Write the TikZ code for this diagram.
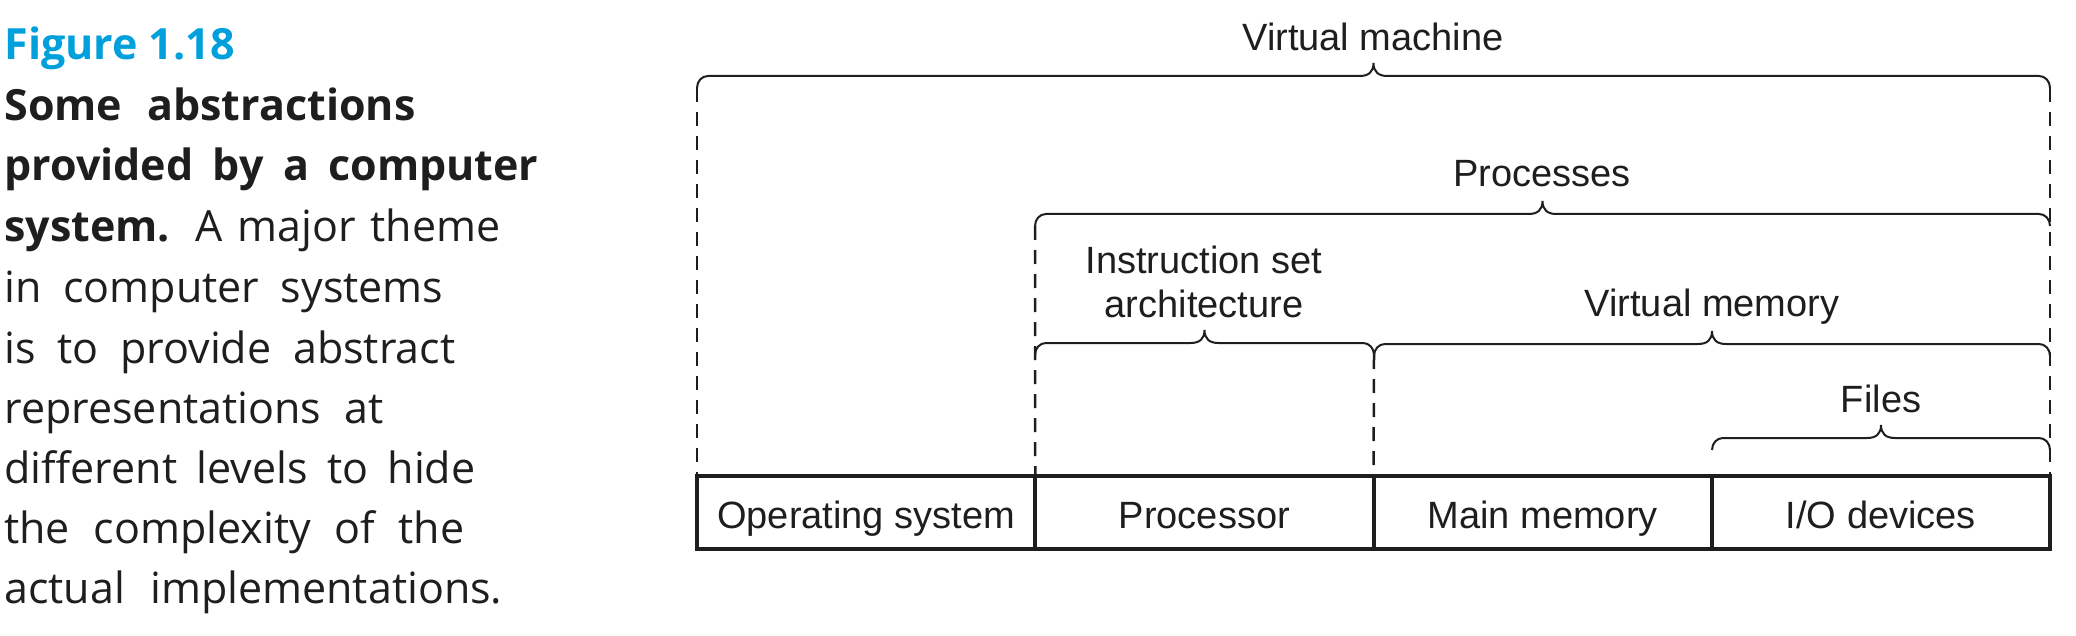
\documentclass[tikz,border=0pt]{standalone}
\usepackage{fontspec}
\setmainfont{Liberation Sans}
\newfontfamily\capfont{Open Sans}
\definecolor{figblue}{RGB}{0,160,220}
\definecolor{ink}{RGB}{30,30,30}
\newcommand\drawbrace[3]{% left x, right x, line y (pixel units, y down)
  \draw[bracestyle] (#1,#3+12) .. controls (#1,#3+5) and (#1+5,#3) .. (#1+11,#3)
    -- ({(#1+#2)/2-14},#3) .. controls ({(#1+#2)/2-5},#3) and ({(#1+#2)/2},#3-4) .. ({(#1+#2)/2},#3-13)
    .. controls ({(#1+#2)/2},#3-4) and ({(#1+#2)/2+5},#3) .. ({(#1+#2)/2+14},#3)
    -- (#2-11,#3) .. controls (#2-5,#3) and (#2,#3+5) .. (#2,#3+12);}
\newcommand\capbox[2]{\makebox[#1pt][s]{#2}}
\begin{document}
\begin{tikzpicture}[x=0.5pt,y=-0.5pt,
  cell/.style={draw=ink,line width=2pt,minimum width=169.125pt,minimum height=36.5pt,
    inner sep=0pt,outer sep=0pt,text height=17.5pt,text depth=2pt,font=\fontsize{19}{22}\selectfont,text=ink},
  lab/.style={anchor=base,inner sep=0pt,font=\fontsize{19}{22}\selectfont,text=ink},
  bracestyle/.style={draw=ink,line width=1pt},
  dashline/.style={draw=ink,line width=1.25pt,dash pattern=on 7pt off 5pt},
  capline/.style={anchor=base west,inner sep=0pt,font=\capfont\fontsize{21.5}{25}\selectfont,text=ink},
  capbold/.style={capline,font=\capfont\bfseries\fontsize{21.5}{25}\selectfont}]
\useasboundingbox (0,0) rectangle (2076,636);
% caption
\node[capbold,text=figblue] (c1) at (4,60) {Figure 1.18};
\node[capbold] (c2) at (4,121) {\capbox{205.5}{Some abstractions}};
\node[capbold] (c3) at (4,181) {\capbox{267}{provided by a computer}};
\node[capline] (c4) at (4,242) {\capbox{248}{\textbf{system.} A major theme}};
\node[capline] (c5) at (4,302) {\capbox{219.5}{in computer systems}};
\node[capline] (c6) at (4,363) {\capbox{225.5}{is to provide abstract}};
\node[capline] (c7) at (4,423) {\capbox{189.5}{representations at}};
\node[capline] (c8) at (4,483) {\capbox{235.5}{different levels to hide}};
\node[capline] (c9) at (4,543) {\capbox{230}{the complexity of the}};
\node[capline] (c10) at (4,603) {\capbox{249}{actual implementations.}};
% cells
\node[cell] (os) at (866.125,512.5) {Operating system};
\node[cell] (proc) at (1204.375,512.5) {Processor};
\node[cell] (mem) at (1542.625,512.5) {Main memory};
\node[cell] (io) at (1880.875,512.5) {I/O devices};
% braces
\drawbrace{697}{2050}{76}
\drawbrace{1035}{2050}{214}
\drawbrace{1035}{1374}{343}
\drawbrace{1374}{2050}{344}
\drawbrace{1712}{2050}{438}
% labels
\node[lab] (vm) at (1373,51) {Virtual machine};
\node[lab] (pr) at (1542,187) {Processes};
\node[lab] (isa1) at (1204,273) {Instruction set};
\node[lab] (isa2) at (1204,317) {architecture};
\node[lab] (vmem) at (1712,316) {Virtual memory};
\node[lab] (fi) at (1881,412) {Files};
% dashed lines
\coordinate (vmL) at (697,88);
\coordinate (vmR) at (2050,88);
\coordinate (prL) at (1035,226);
\coordinate (isaR) at (1374,355);
\draw[dashline] (vmL) -- (os.north west);
\draw[dashline] (vmR) -- (io.north east);
\draw[dashline] (prL) -- (os.north east);
\draw[dashline] (isaR) -- (proc.north east);
\end{tikzpicture}
\end{document}
